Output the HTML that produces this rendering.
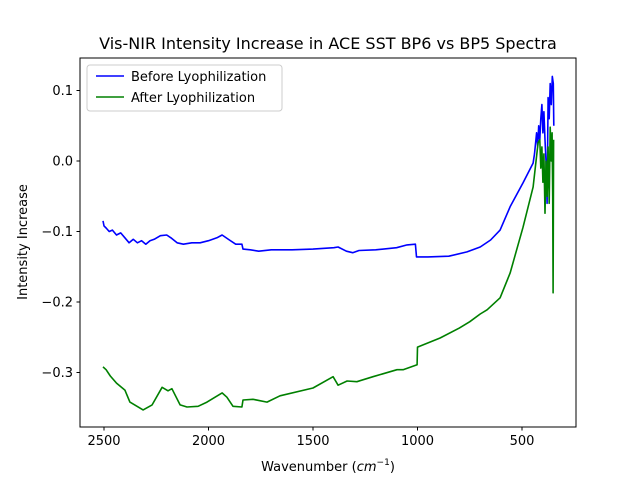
<!DOCTYPE html>
<html><head><meta charset="utf-8"><style>
body{margin:0;background:#fff;}
svg{display:block;font-family:"DejaVu Sans","Liberation Sans",sans-serif;}
</style></head><body>
<svg id="chart" width="640" height="480">
<rect width="640" height="480" fill="#fff"/>
<text x="328" y="49" text-anchor="middle" font-size="16">Vis-NIR Intensity Increase in ACE SST BP6 vs BP5 Spectra</text>
<g id="plot"></g>
<rect x="80" y="58" width="496" height="369" fill="none" stroke="#000" stroke-width="1"/>
<g id="ticks"></g>
<text x="328" y="471" text-anchor="middle" font-size="13">Wavenumber (<tspan font-style="italic">cm</tspan><tspan font-size="9" dy="-6">−1</tspan><tspan dy="6">)</tspan></text>
<text transform="translate(27,242) rotate(-90)" text-anchor="middle" font-size="13">Intensity Increase</text>
<g>
<rect x="87" y="65" width="195" height="46" rx="3" fill="#fff" fill-opacity="0.8" stroke="#ccc"/>
<line x1="96" y1="76" x2="124" y2="76" stroke="#0000ff" stroke-width="1.5"/>
<text x="131" y="81" font-size="13">Before Lyophilization</text>
<line x1="96" y1="97" x2="124" y2="97" stroke="#008000" stroke-width="1.5"/>
<text x="131" y="102" font-size="13">After Lyophilization</text>
</g>
</svg>
<script>
const xTicks=[2500,2000,1500,1000,500];
const yTicks=[0.1,0.0,-0.1,-0.2,-0.3];
const yTickLabels=["0.1","0.0","−0.1","−0.2","−0.3"];
const beforeWn=[2505,2500,2490,2475,2460,2440,2420,2400,2380,2360,2340,2320,2300,2280,2260,2230,2200,2180,2150,2120,2080,2040,2000,1960,1935,1900,1870,1840,1835,1800,1760,1700,1600,1500,1400,1380,1340,1310,1280,1200,1100,1050,1010,1005,950,850,763,700,650,605,557,495,447,440,430,425,420,415,410,405,400,395,390,385,380,375,370,365,360,355,350,348];
const beforeVal=[-0.085,-0.092,-0.095,-0.100,-0.098,-0.105,-0.102,-0.109,-0.116,-0.111,-0.116,-0.113,-0.118,-0.113,-0.111,-0.106,-0.105,-0.109,-0.116,-0.118,-0.116,-0.116,-0.113,-0.109,-0.105,-0.112,-0.118,-0.118,-0.125,-0.126,-0.128,-0.126,-0.126,-0.125,-0.123,-0.122,-0.128,-0.130,-0.127,-0.126,-0.123,-0.119,-0.118,-0.136,-0.136,-0.135,-0.129,-0.122,-0.112,-0.098,-0.065,-0.031,-0.003,0.01,0.04,0.02,0.05,0.03,0.06,0.08,0.04,0.07,0.03,0.0,-0.06,0.09,0.06,0.11,0.08,0.12,0.11,0.05];
const afterWn=[2505,2490,2470,2440,2400,2376,2313,2270,2222,2194,2175,2136,2103,2050,2007,1935,1912,1883,1840,1835,1787,1720,1658,1500,1404,1380,1337,1290,1213,1098,1069,1002,1000,892,800,750,700,667,605,557,495,447,423,415,410,405,400,395,390,385,380,375,370,365,360,356,353,351,349];
const afterVal=[-0.292,-0.296,-0.305,-0.315,-0.325,-0.342,-0.353,-0.346,-0.321,-0.326,-0.323,-0.346,-0.349,-0.348,-0.342,-0.329,-0.335,-0.348,-0.349,-0.339,-0.338,-0.342,-0.333,-0.322,-0.306,-0.318,-0.312,-0.313,-0.306,-0.296,-0.296,-0.289,-0.264,-0.251,-0.237,-0.228,-0.217,-0.211,-0.194,-0.159,-0.094,-0.037,0.026,0.03,-0.01,0.02,-0.03,0.01,-0.074,0.0,-0.05,0.02,-0.06,0.048,0.0,0.04,-0.05,-0.187,0.03];
function xs(v){return 104+(2500-v)*0.209;}
function ys(v){return 161-v*705;}
const NS="http://www.w3.org/2000/svg";
const plot=document.getElementById('plot');
function series(wn,val,color,name){
  const p=document.createElementNS(NS,'polyline');
  p.setAttribute('points',wn.map((w,i)=>xs(w).toFixed(1)+','+ys(val[i]).toFixed(1)).join(' '));
  p.setAttribute('fill','none');p.setAttribute('stroke',color);p.setAttribute('stroke-width','1.6');
  p.setAttribute('stroke-linejoin','round');
  
  
  plot.appendChild(p);
}
series(beforeWn,beforeVal,'#0000ff','before-lyophilization-line');
series(afterWn,afterVal,'#008000','after-lyophilization-line');
const tk=document.getElementById('ticks');
xTicks.forEach(v=>{
  const x=xs(v);
  const l=document.createElementNS(NS,'line');
  l.setAttribute('x1',x);l.setAttribute('x2',x);l.setAttribute('y1',427);l.setAttribute('y2',430.5);l.setAttribute('stroke','#000');
  
  
  tk.appendChild(l);
  const t=document.createElementNS(NS,'text');
  t.setAttribute('x',x);t.setAttribute('y',445);t.setAttribute('text-anchor','middle');t.setAttribute('font-size','13');
  t.textContent=v;
  
  
  tk.appendChild(t);
});
yTicks.forEach((v,i)=>{
  const y=ys(v);
  const l=document.createElementNS(NS,'line');
  l.setAttribute('x1',76.5);l.setAttribute('x2',80);l.setAttribute('y1',y);l.setAttribute('y2',y);l.setAttribute('stroke','#000');
  
  
  tk.appendChild(l);
  const t=document.createElementNS(NS,'text');
  t.setAttribute('x',73);t.setAttribute('y',y+4.5);t.setAttribute('text-anchor','end');t.setAttribute('font-size','13');
  t.textContent=yTickLabels[i];
  
  
  tk.appendChild(t);
});
</script>
</body></html>
